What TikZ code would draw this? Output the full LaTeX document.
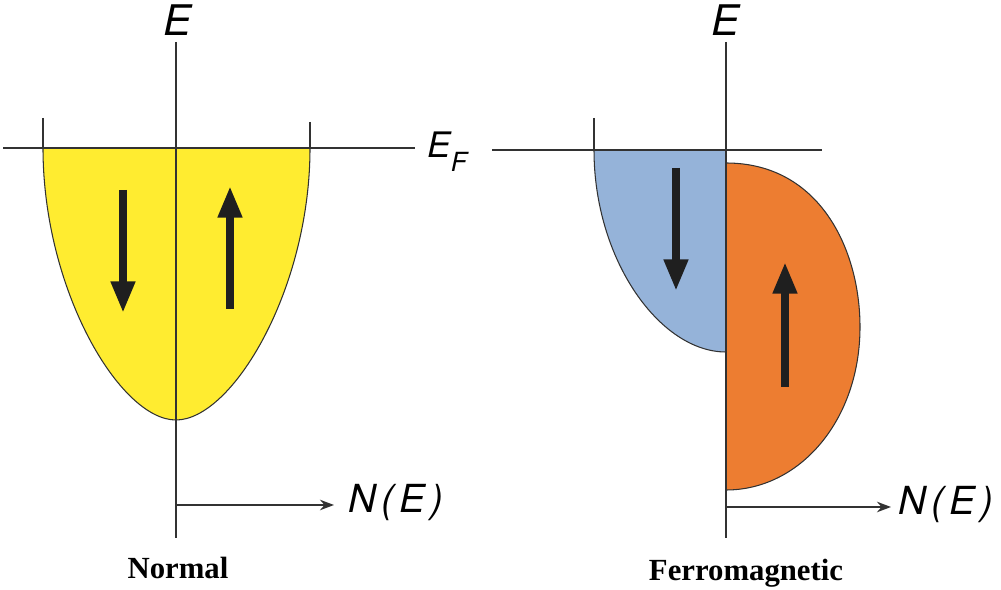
\documentclass[tikz,border=0pt]{standalone}
\usepackage{fontspec}
\usetikzlibrary{arrows.meta,calc}
\newfontfamily\axfont{TeX Gyre Heros}
\newfontfamily\capfont{Liberation Serif}
\definecolor{bandyel}{RGB}{255,236,48}
\definecolor{bandblue}{RGB}{149,179,217}
\definecolor{bandorg}{RGB}{237,125,49}
\definecolor{ink}{RGB}{50,50,50}
\newcommand{\dosN}{N\kern3pt(\kern3pt E\kern3pt)}
\tikzset{
  ax/.style={draw=ink, line width=0.8pt},
  rim/.style={draw=ink, line width=0.6pt},
  spin/.style={draw=black!88, line width=4.4pt, -{Triangle[length=18pt,width=13pt]}},
  dos/.style={draw=ink, line width=1pt, -{Stealth[length=8pt,width=6pt]}},
  lab/.style={inner sep=0pt, font=\axfont\itshape\fontsize{22}{24}\selectfont},
  captext/.style={inner sep=0pt, font=\capfont\bfseries\fontsize{17.5}{19}\selectfont}
}

\begin{document}
\begin{tikzpicture}[x=0.02cm, y=-0.02cm]
	\useasboundingbox (0,0) rectangle (1001,590);

	% normal metal
	\fill[bandyel] (43,148) .. controls (43,290) and (120,420) .. (176,420)
		.. controls (232,420) and (310,290) .. (310,148) -- cycle;
	\draw[rim] (43,148) .. controls (43,290) and (120,420) .. (176,420)
		.. controls (232,420) and (310,290) .. (310,148);

	\node[lab, font=\axfont\itshape\fontsize{24}{26}\selectfont] (0) at (178,20) {E};
	\node[lab, anchor=west, font=\axfont\itshape\fontsize{20}{22}\selectfont] (1) at (427,152)
		{E\raisebox{-0.4em}{\fontsize{15}{15}\selectfont F}};
	\node[lab, anchor=west] (2) at (348,503) {\dosN};
	\node[captext] (3) at (178,568) {Normal};

	\coordinate (a0) at (176,42);
	\coordinate (a1) at (176,538);
	\coordinate (a2) at (3,148);
	\coordinate (a3) at (415,148);
	\coordinate (a4) at (176,505);
	\coordinate (a5) at (334,505);

	\draw[ax] (a0) -- (a1);
	\draw[ax] (a2) -- (a3);
	\draw[ax] (43,118) -- (43,148);
	\draw[ax] (310,122) -- (310,148);
	\draw[dos] (a4) -- (a5);

	\draw[spin] (123,190) -- (123,313);
	\draw[spin] (230,309) -- (230,186);

	% ferromagnet
	\fill[bandblue] (594,150) -- (726,150) -- (726,352)
		.. controls (660,352) and (594,260) .. (594,150) -- cycle;
	\draw[rim] (726,352) .. controls (660,352) and (594,260) .. (594,150);
	\fill[bandorg] (726,163) .. controls (820,163) and (860,250) .. (860,327)
		.. controls (860,420) and (800,490) .. (726,490) -- cycle;
	\draw[rim] (726,163) .. controls (820,163) and (860,250) .. (860,327)
		.. controls (860,420) and (800,490) .. (726,490);

	\node[lab, font=\axfont\itshape\fontsize{24}{26}\selectfont] (4) at (726,20) {E};
	\node[lab, anchor=west] (5) at (898,505) {\dosN};
	\node[captext] (6) at (746,573) {Ferromagnetic};

	\coordinate (b0) at (726,42);
	\coordinate (b1) at (726,538);
	\coordinate (b2) at (492,150);
	\coordinate (b3) at (822,150);
	\coordinate (b4) at (726,507);
	\coordinate (b5) at (891,507);

	\draw[ax] (b0) -- (b1);
	\draw[ax] (b2) -- (b3);
	\draw[ax] (594,118) -- (594,150);
	\draw[dos] (b4) -- (b5);

	\draw[spin] (676,168) -- (676,291);
	\draw[spin] (785,387) -- (785,262);
\end{tikzpicture}
\end{document}
